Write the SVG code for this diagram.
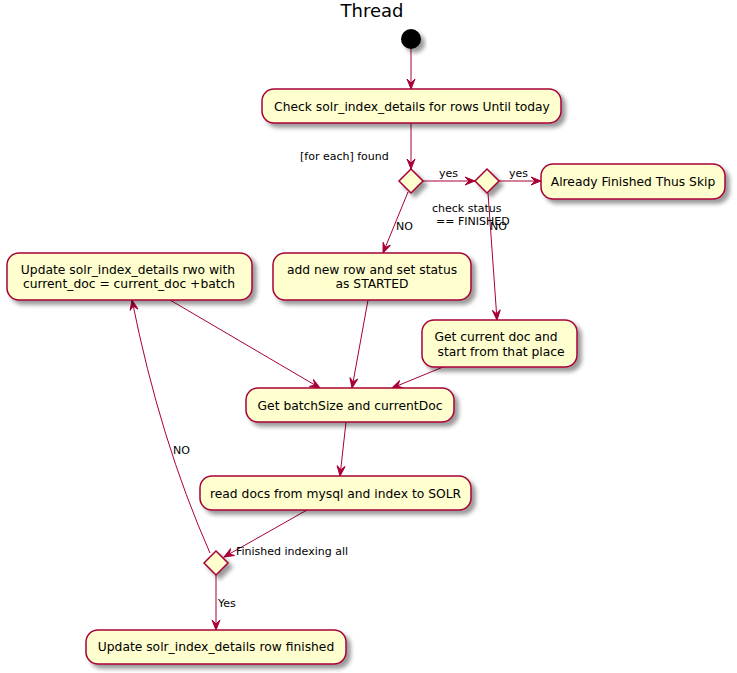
<svg xmlns="http://www.w3.org/2000/svg" width="737" height="673" viewBox="0 0 737 673">
<defs>
<filter id="sh" x="-20%" y="-20%" width="150%" height="160%">
<feGaussianBlur in="SourceAlpha" stdDeviation="2"/>
<feOffset dx="4" dy="4" result="b"/>
<feColorMatrix in="b" type="matrix" values="0 0 0 0 0  0 0 0 0 0  0 0 0 0 0  0 0 0 0.4 0" result="c"/>
<feMerge><feMergeNode in="c"/><feMergeNode in="SourceGraphic"/></feMerge>
</filter>
<marker id="ar" viewBox="-11 -5 12 10" refX="0" refY="0" markerWidth="12" markerHeight="10" markerUnits="userSpaceOnUse" orient="auto">
<path d="M0,0 L-10,-4 L-6,0 L-10,4 Z" fill="#A80036" stroke="#A80036" stroke-width="1"/>
</marker>
</defs>
<style>
.box{fill:#FEFECE;stroke:#A80036;stroke-width:1.5;filter:url(#sh)}
.t{font-family:"DejaVu Sans",sans-serif;font-size:12.3px;fill:#000}
.l{font-family:"DejaVu Sans",sans-serif;font-size:11px;fill:#000}
.c{fill:none;stroke:#A80036;stroke-width:1;marker-end:url(#ar)}
.m{text-anchor:middle}
</style>
<rect width="737" height="673" fill="#fff"/>
<text x="372" y="17" class="m" style="font-family:'DejaVu Sans',sans-serif;font-size:18px">Thread</text>

<g id="connectors">
<line class="c" x1="411" y1="49" x2="411" y2="89"/>
<line class="c" x1="411" y1="123" x2="411" y2="169"/>
<line class="c" x1="423" y1="181" x2="475" y2="181"/>
<line class="c" x1="499" y1="181" x2="541" y2="181"/>
<line class="c" x1="408" y1="192" x2="383" y2="253"/>
<line class="c" x1="488" y1="193" x2="497" y2="320"/>
<line class="c" x1="170" y1="300" x2="320" y2="388"/>
<line class="c" x1="368" y1="300" x2="352" y2="388"/>
<line class="c" x1="443" y1="367" x2="392" y2="388"/>
<line class="c" x1="346" y1="422" x2="340" y2="476"/>
<line class="c" x1="307" y1="510" x2="224" y2="557"/>
<path class="c" d="M210,553 Q160,440 132,300"/>
<line class="c" x1="216" y1="575" x2="216" y2="630"/>
<text x="300" y="160" class="l">[for each] found</text>
<text x="439" y="177" class="l">yes</text>
<text x="509" y="177" class="l">yes</text>
<text x="432" y="212" class="l">check status</text>
<text x="436" y="225" class="l">== FINISHED</text>
<text x="490" y="230" class="l">NO</text>
<text x="396" y="230" class="l">NO</text>
<text x="173" y="454" class="l">NO</text>
<text x="236" y="555" class="l">Finished indexing all</text>
<text x="218" y="607" class="l">Yes</text>
</g>

<g id="start"><circle cx="411" cy="39" r="10" fill="#000" filter="url(#sh)"/></g>
<g id="check"><rect class="box" x="262" y="89" width="299" height="34" rx="12"/><text x="412" y="111" class="t m">Check solr_index_details for rows Until today</text></g>
<g id="d1"><polygon class="box" points="411,169 423,181 411,193 399,181"/></g>
<g id="d2"><polygon class="box" points="487,169 499,181 487,193 475,181"/></g>
<g id="skip"><rect class="box" x="541" y="164" width="184" height="35" rx="12"/><text x="633" y="186" class="t m">Already Finished Thus Skip</text></g>
<g id="update"><rect class="box" x="7" y="253" width="245" height="47" rx="12"/><text x="128" y="274" class="t m">Update solr_index_details rwo with</text><text x="129" y="288" class="t m">current_doc = current_doc +batch</text></g>
<g id="addrow"><rect class="box" x="273" y="253" width="198" height="47" rx="12"/><text x="372" y="274" class="t m">add new row and set status</text><text x="372" y="288" class="t m">as STARTED</text></g>
<g id="getcur"><rect class="box" x="422" y="320" width="155" height="47" rx="12"/><text x="496" y="341" class="t m">Get current doc and</text><text x="501" y="356" class="t m">start from that place</text></g>
<g id="batch"><rect class="box" x="246" y="388" width="208" height="34" rx="12"/><text x="350" y="410" class="t m">Get batchSize and currentDoc</text></g>
<g id="read"><rect class="box" x="200" y="476" width="271" height="34" rx="12"/><text x="335.5" y="498" class="t m">read docs from mysql and index to SOLR</text></g>
<g id="d3"><polygon class="box" points="216,551 228,563 216,575 204,563"/></g>
<g id="final"><rect class="box" x="86" y="630" width="260" height="34" rx="12"/><text x="216" y="651" class="t m">Update solr_index_details row finished</text></g>
</svg>
